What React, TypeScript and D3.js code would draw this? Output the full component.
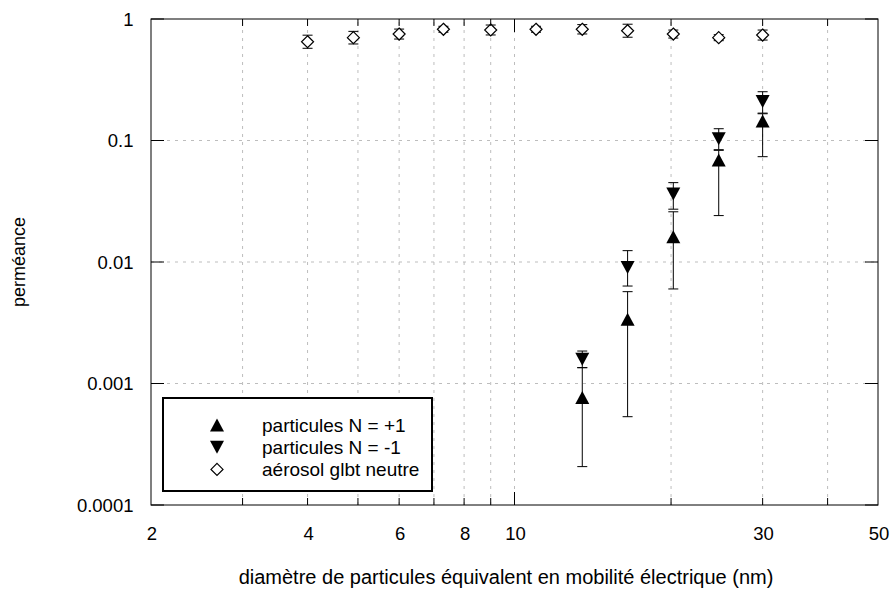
import React from "react";
import * as d3 from "d3";

// ---- data ----
const neutralD = [4, 4.9, 6, 7.3, 9, 11, 13.5, 16.5, 20.2, 24.7, 30];
const neutralP = [0.65, 0.702, 0.752, 0.823, 0.812, 0.823, 0.823, 0.801, 0.752, 0.702, 0.738];
const neutralLo = [0.574, 0.623, 0.684, 0.778, 0.739, 0.778, 0.753, 0.708, 0.697, 0.663, 0.671];
const neutralHi = [0.736, 0.791, 0.826, 0.871, 0.892, 0.871, 0.899, 0.906, 0.811, 0.743, 0.811];

const chargedD = [13.5, 16.5, 20.2, 24.7, 30];
const plusP = [0.000767, 0.00338, 0.0161, 0.0691, 0.145];
const plusLo = [0.000207, 0.000533, 0.006, 0.0241, 0.0736];
const plusHi = [0.00135, 0.0057, 0.0259, 0.083, 0.166];
const minusP = [0.00158, 0.00901, 0.0363, 0.1035, 0.209];
const minusLo = [0.00135, 0.00634, 0.0272, 0.084, 0.168];
const minusHi = [0.00185, 0.0124, 0.045, 0.125, 0.252];

const xMinorTicks = [3, 4, 5, 6, 7, 8, 9, 20, 30, 40];
const xMajorTicks = [10];
const xGrid = [3, 4, 5, 6, 7, 8, 9, 10, 20, 30, 40];
const xLabels = [2, 4, 6, 8, 10, 30, 50];
const yTicks = [1, 0.1, 0.01, 0.001, 0.0001];
const yGrid = [0.1, 0.01, 0.001];
const yLabels = ["1", "0.1", "0.01", "0.001", "0.0001"];

const legendItems = [
  { label: "particules N = +1", shape: "up" },
  { label: "particules N = -1", shape: "down" },
  { label: "aérosol glbt neutre", shape: "diamond" },
];

const xTitle = "diamètre de particules équivalent en mobilité électrique (nm)";
const yTitle = "perméance";

// ---- layout ----
const L = 151, R = 878, T = 19, B = 505;
const x = d3.scaleLog().domain([2, 50]).range([L, R]);
const y = d3.scaleLog().domain([0.0001, 1]).range([B, T]);
const FONT = "'Liberation Sans', Arial, Helvetica, sans-serif";

function up(cx: number, cy: number) {
  return `M${cx},${cy - 6.5}L${cx - 7},${cy + 6.5}L${cx + 7},${cy + 6.5}Z`;
}
function down(cx: number, cy: number) {
  return `M${cx - 7},${cy - 6.5}L${cx + 7},${cy - 6.5}L${cx},${cy + 6.5}Z`;
}
function diamond(cx: number, cy: number) {
  return `M${cx},${cy - 6}L${cx + 6},${cy}L${cx},${cy + 6}L${cx - 6},${cy}Z`;
}

function ErrBar({ xv, lo, hi }: { xv: number; lo: number; hi: number }) {
  const cx = x(xv);
  return (
    <g stroke="#000" strokeWidth={1}>
      <line x1={cx} x2={cx} y1={y(lo)} y2={y(hi)} />
      <line x1={cx - 5} x2={cx + 5} y1={y(lo)} y2={y(lo)} />
      <line x1={cx - 5} x2={cx + 5} y1={y(hi)} y2={y(hi)} />
    </g>
  );
}

export default function App() {
  return (
    <svg
      width={892}
      height={590}
      style={{ position: "absolute", left: 0, top: 0, background: "#fff" }}
      fontFamily={FONT}
    >
      <rect x={0} y={0} width={892} height={590} fill="#fff" />
      {/* grid */}
      <g stroke="#bdbdbd" strokeWidth={1} strokeDasharray="3,5">
        {xGrid.map((v) => (
          <line key={"gx" + v} x1={x(v)} x2={x(v)} y1={B} y2={T} />
        ))}
        {yGrid.map((v) => (
          <line key={"gy" + v} x1={L} x2={R} y1={y(v)} y2={y(v)} />
        ))}
      </g>

      {/* error bars */}
      {neutralD.map((d, i) => (
        <ErrBar key={"en" + i} xv={d} lo={neutralLo[i]} hi={neutralHi[i]} />
      ))}
      {chargedD.map((d, i) => (
        <ErrBar key={"ep" + i} xv={d} lo={plusLo[i]} hi={plusHi[i]} />
      ))}
      {chargedD.map((d, i) => (
        <ErrBar key={"em" + i} xv={d} lo={minusLo[i]} hi={minusHi[i]} />
      ))}

      {/* markers */}
      {neutralD.map((d, i) => (
        <path key={"n" + i} d={diamond(x(d), y(neutralP[i]))} fill="#fff" stroke="#000" strokeWidth={1.2} />
      ))}
      {chargedD.map((d, i) => (
        <path key={"p" + i} d={up(x(d), y(plusP[i]))} fill="#000" />
      ))}
      {chargedD.map((d, i) => (
        <path key={"m" + i} d={down(x(d), y(minusP[i]))} fill="#000" />
      ))}

      {/* frame */}
      <rect x={L} y={T} width={R - L} height={B - T} fill="none" stroke="#000" strokeWidth={1} />

      {/* ticks */}
      <g stroke="#000" strokeWidth={1}>
        {xMinorTicks.map((v) => (
          <g key={"xt" + v}>
            <line x1={x(v)} x2={x(v)} y1={B} y2={B - 7} />
            <line x1={x(v)} x2={x(v)} y1={T} y2={T + 7} />
          </g>
        ))}
        {xMajorTicks.map((v) => (
          <g key={"xM" + v}>
            <line x1={x(v)} x2={x(v)} y1={B} y2={B - 13} />
            <line x1={x(v)} x2={x(v)} y1={T} y2={T + 13} />
          </g>
        ))}
        {yTicks.map((v) => (
          <g key={"yt" + v}>
            <line x1={L} x2={L + 13} y1={y(v)} y2={y(v)} />
            <line x1={R} x2={R - 13} y1={y(v)} y2={y(v)} />
          </g>
        ))}
      </g>

      {/* tick labels */}
      <g fontSize={18.5} fill="#000">
        {xLabels.map((v) => (
          <text key={"xl" + v} x={x(v) + 1} y={540} textAnchor="middle">
            {v}
          </text>
        ))}
        {yTicks.map((v, i) => (
          <text key={"yl" + v} x={133.5} y={y(v) + 6.5} textAnchor="end">
            {yLabels[i]}
          </text>
        ))}
      </g>

      {/* axis titles */}
      <text x={506} y={584} fontSize={20} textAnchor="middle">
        {xTitle}
      </text>
      <text
        transform={`translate(25,${(T + B) / 2}) rotate(-90)`}
        fontSize={18}
        textAnchor="middle"
      >
        {yTitle}
      </text>

      {/* legend */}
      <rect x={163} y={398} width={269} height={93} fill="#fff" stroke="#000" strokeWidth={2} />
      {legendItems.map((it, i) => {
        const cy = 425 + i * 22.2;
        const cx = 217;
        const d = it.shape === "up" ? up(cx, cy) : it.shape === "down" ? down(cx, cy) : diamond(cx, cy);
        return (
          <g key={"lg" + i}>
            <path
              d={d}
              fill={it.shape === "diamond" ? "#fff" : "#000"}
              stroke={it.shape === "diamond" ? "#000" : "none"}
              strokeWidth={1.2}
            />
            <text x={262} y={cy + 6.5} fontSize={19}>
              {it.label}
            </text>
          </g>
        );
      })}
    </svg>
  );
}
